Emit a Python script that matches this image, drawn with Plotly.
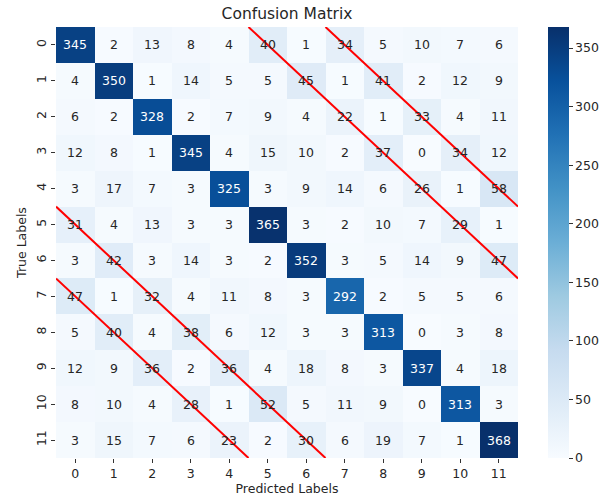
import plotly.graph_objects as go
import plotly.colors as pc

labels = [str(i) for i in range(12)]
matrix = [
    [345, 2, 13, 8, 4, 40, 1, 34, 5, 10, 7, 6],
    [4, 350, 1, 14, 5, 5, 45, 1, 41, 2, 12, 9],
    [6, 2, 328, 2, 7, 9, 4, 22, 1, 33, 4, 11],
    [12, 8, 1, 345, 4, 15, 10, 2, 37, 0, 34, 12],
    [3, 17, 7, 3, 325, 3, 9, 14, 6, 26, 1, 58],
    [31, 4, 13, 3, 3, 365, 3, 2, 10, 7, 29, 1],
    [3, 42, 3, 14, 3, 2, 352, 3, 5, 14, 9, 47],
    [47, 1, 32, 4, 11, 8, 3, 292, 2, 5, 5, 6],
    [5, 40, 4, 38, 6, 12, 3, 3, 313, 0, 3, 8],
    [12, 9, 36, 2, 36, 4, 18, 8, 3, 337, 4, 18],
    [8, 10, 4, 28, 1, 52, 5, 11, 9, 0, 313, 3],
    [3, 15, 7, 6, 23, 2, 30, 6, 19, 7, 1, 368],
]
# red diagonal guide lines in cell units: (x0, y0, x1, y1)
red_lines = [
    (6.5, -0.5, 11.5, 4.5),
    (4.5, -0.5, 11.5, 6.5),
    (-0.5, 4.5, 6.5, 11.5),
    (-0.5, 6.5, 4.5, 11.5),
]

FONT = "DejaVu Sans"
TXT = "#262626"
zmax = max(max(r) for r in matrix)

W, H = 612, 499

fig = go.Figure(go.Heatmap(
    z=matrix, x=list(range(12)), y=list(range(12)),
    colorscale=pc.sequential.Blues, zmin=0, zmax=zmax,
    hoverinfo="skip",
    colorbar=dict(
        x=1.065, xanchor="left", xref="paper", xpad=0,
        y=0.5, yanchor="middle", len=1, lenmode="fraction", ypad=0,
        thickness=21, outlinewidth=0,
        tickvals=[0, 50, 100, 150, 200, 250, 300, 350],
        ticks="outside", ticklen=4, tickcolor="#333",
        tickfont=dict(family=FONT, size=12.5, color=TXT),
    ),
))

annotations = []
for i, row in enumerate(matrix):
    for j, v in enumerate(row):
        annotations.append(dict(
            x=j, y=i, text=str(v), showarrow=False, xref="x", yref="y",
            font=dict(family=FONT, size=12.5,
                      color="white" if v > zmax * 0.5 else TXT),
        ))

shapes = [dict(type="line", x0=a, y0=b, x1=c, y1=d, xref="x", yref="y",
               line=dict(color="red", width=2)) for a, b, c, d in red_lines]

fig.update_layout(
    width=W, height=H,
    margin=dict(l=56, r=94, t=27, b=41),
    paper_bgcolor="white", plot_bgcolor="white",
    font=dict(family=FONT, size=12.5, color=TXT),
    title=dict(text="Confusion Matrix", x=287 / W, xanchor="center",
               y=1 - 13.5 / H, yanchor="middle",
               font=dict(family=FONT, size=15.5, color=TXT)),
    annotations=annotations,
    shapes=shapes,
    xaxis=dict(
        range=[-0.5, 11.5], tickvals=list(range(12)), ticktext=labels,
        ticks="outside", ticklen=4, tickcolor="#333", showgrid=False,
        zeroline=False, showline=False, automargin=False,
        title=dict(text="Predicted Labels", standoff=2,
                   font=dict(family=FONT, size=12.5)),
        tickfont=dict(family=FONT, size=12.5),
    ),
    yaxis=dict(
        range=[11.5, -0.5], tickvals=list(range(12)), ticktext=labels,
        ticks="outside", ticklen=4, tickcolor="#333", showgrid=False,
        zeroline=False, showline=False, tickangle=-90, automargin=False,
        title=dict(text="True Labels", standoff=4,
                   font=dict(family=FONT, size=12.5)),
        tickfont=dict(family=FONT, size=12.5),
    ),
)

fig.write_html("out.html",
               config={"displayModeBar": False},
               post_script="document.body.style.margin='0';")
